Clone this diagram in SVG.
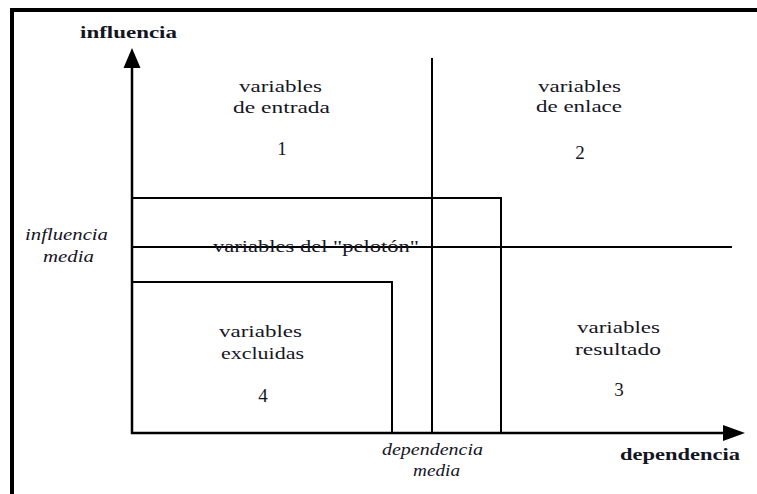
<svg xmlns="http://www.w3.org/2000/svg" width="757" height="494" viewBox="0 0 757 494">
<style>
text{font-family:"Liberation Serif","DejaVu Serif","Times New Roman",serif;fill:#15151f;}
.t{font-size:16.5px;}
.n{font-size:19px;}
.b{font-size:17px;font-weight:bold;}
.i{font-size:16.5px;font-style:italic;}
.ln{stroke:#000;stroke-width:2;fill:none;}
.ax{stroke:#000;stroke-width:2.5;fill:none;}
.frame{stroke:#000;stroke-width:4;fill:none;}
</style>
<rect width="757" height="494" fill="#fff"/>
<g id="frame">
<path class="frame" d="M12 494 V10 H757"/>
</g>
<g id="connectors">
<line class="ax" x1="132" y1="434" x2="132" y2="66"/>
<polygon points="132,48 123.5,68 140.5,68" fill="#000"/>
<line class="ax" x1="131" y1="433" x2="725" y2="433"/>
<polygon points="745,433 723,425 723,441" fill="#000"/>
<line class="ln" x1="432" y1="58" x2="432" y2="433"/>
<line class="ln" x1="131" y1="247" x2="732" y2="247"/>
</g>
<g id="axis-labels">
<text class="b" x="80" y="38" textLength="97" lengthAdjust="spacingAndGlyphs">influencia</text>
<text class="b" x="620" y="460" textLength="120" lengthAdjust="spacingAndGlyphs">dependencia</text>
<text class="i" x="25" y="240" textLength="83" lengthAdjust="spacingAndGlyphs">influencia</text>
<text class="i" x="43" y="262" textLength="51" lengthAdjust="spacingAndGlyphs">media</text>
<text class="i" x="382" y="455" textLength="101" lengthAdjust="spacingAndGlyphs">dependencia</text>
<text class="i" x="413" y="476" textLength="47" lengthAdjust="spacingAndGlyphs">media</text>
</g>
<g id="q1">
<text class="t" x="239" y="92" textLength="83" lengthAdjust="spacingAndGlyphs">variables</text>
<text class="t" x="233" y="113" textLength="97" lengthAdjust="spacingAndGlyphs">de entrada</text>
<text class="n" x="282" y="155" text-anchor="middle">1</text>
</g>
<g id="q2">
<text class="t" x="538" y="92" textLength="83" lengthAdjust="spacingAndGlyphs">variables</text>
<text class="t" x="536" y="112" textLength="86" lengthAdjust="spacingAndGlyphs">de enlace</text>
<text class="n" x="580" y="159" text-anchor="middle">2</text>
</g>
<g id="peloton">
<path class="ln" d="M131 198 H501 V433"/>
<text class="t" x="213" y="252" textLength="206" lengthAdjust="spacingAndGlyphs">variables del "pelotón"</text>
</g>
<g id="q4">
<path class="ln" d="M131 282 H392 V433"/>
<text class="t" x="219" y="337" textLength="83" lengthAdjust="spacingAndGlyphs">variables</text>
<text class="t" x="221" y="359" textLength="83" lengthAdjust="spacingAndGlyphs">excluidas</text>
<text class="n" x="263" y="402" text-anchor="middle">4</text>
</g>
<g id="q3">
<text class="t" x="577" y="333" textLength="83" lengthAdjust="spacingAndGlyphs">variables</text>
<text class="t" x="575" y="355" textLength="86" lengthAdjust="spacingAndGlyphs">resultado</text>
<text class="n" x="619" y="396" text-anchor="middle">3</text>
</g>
</svg>
